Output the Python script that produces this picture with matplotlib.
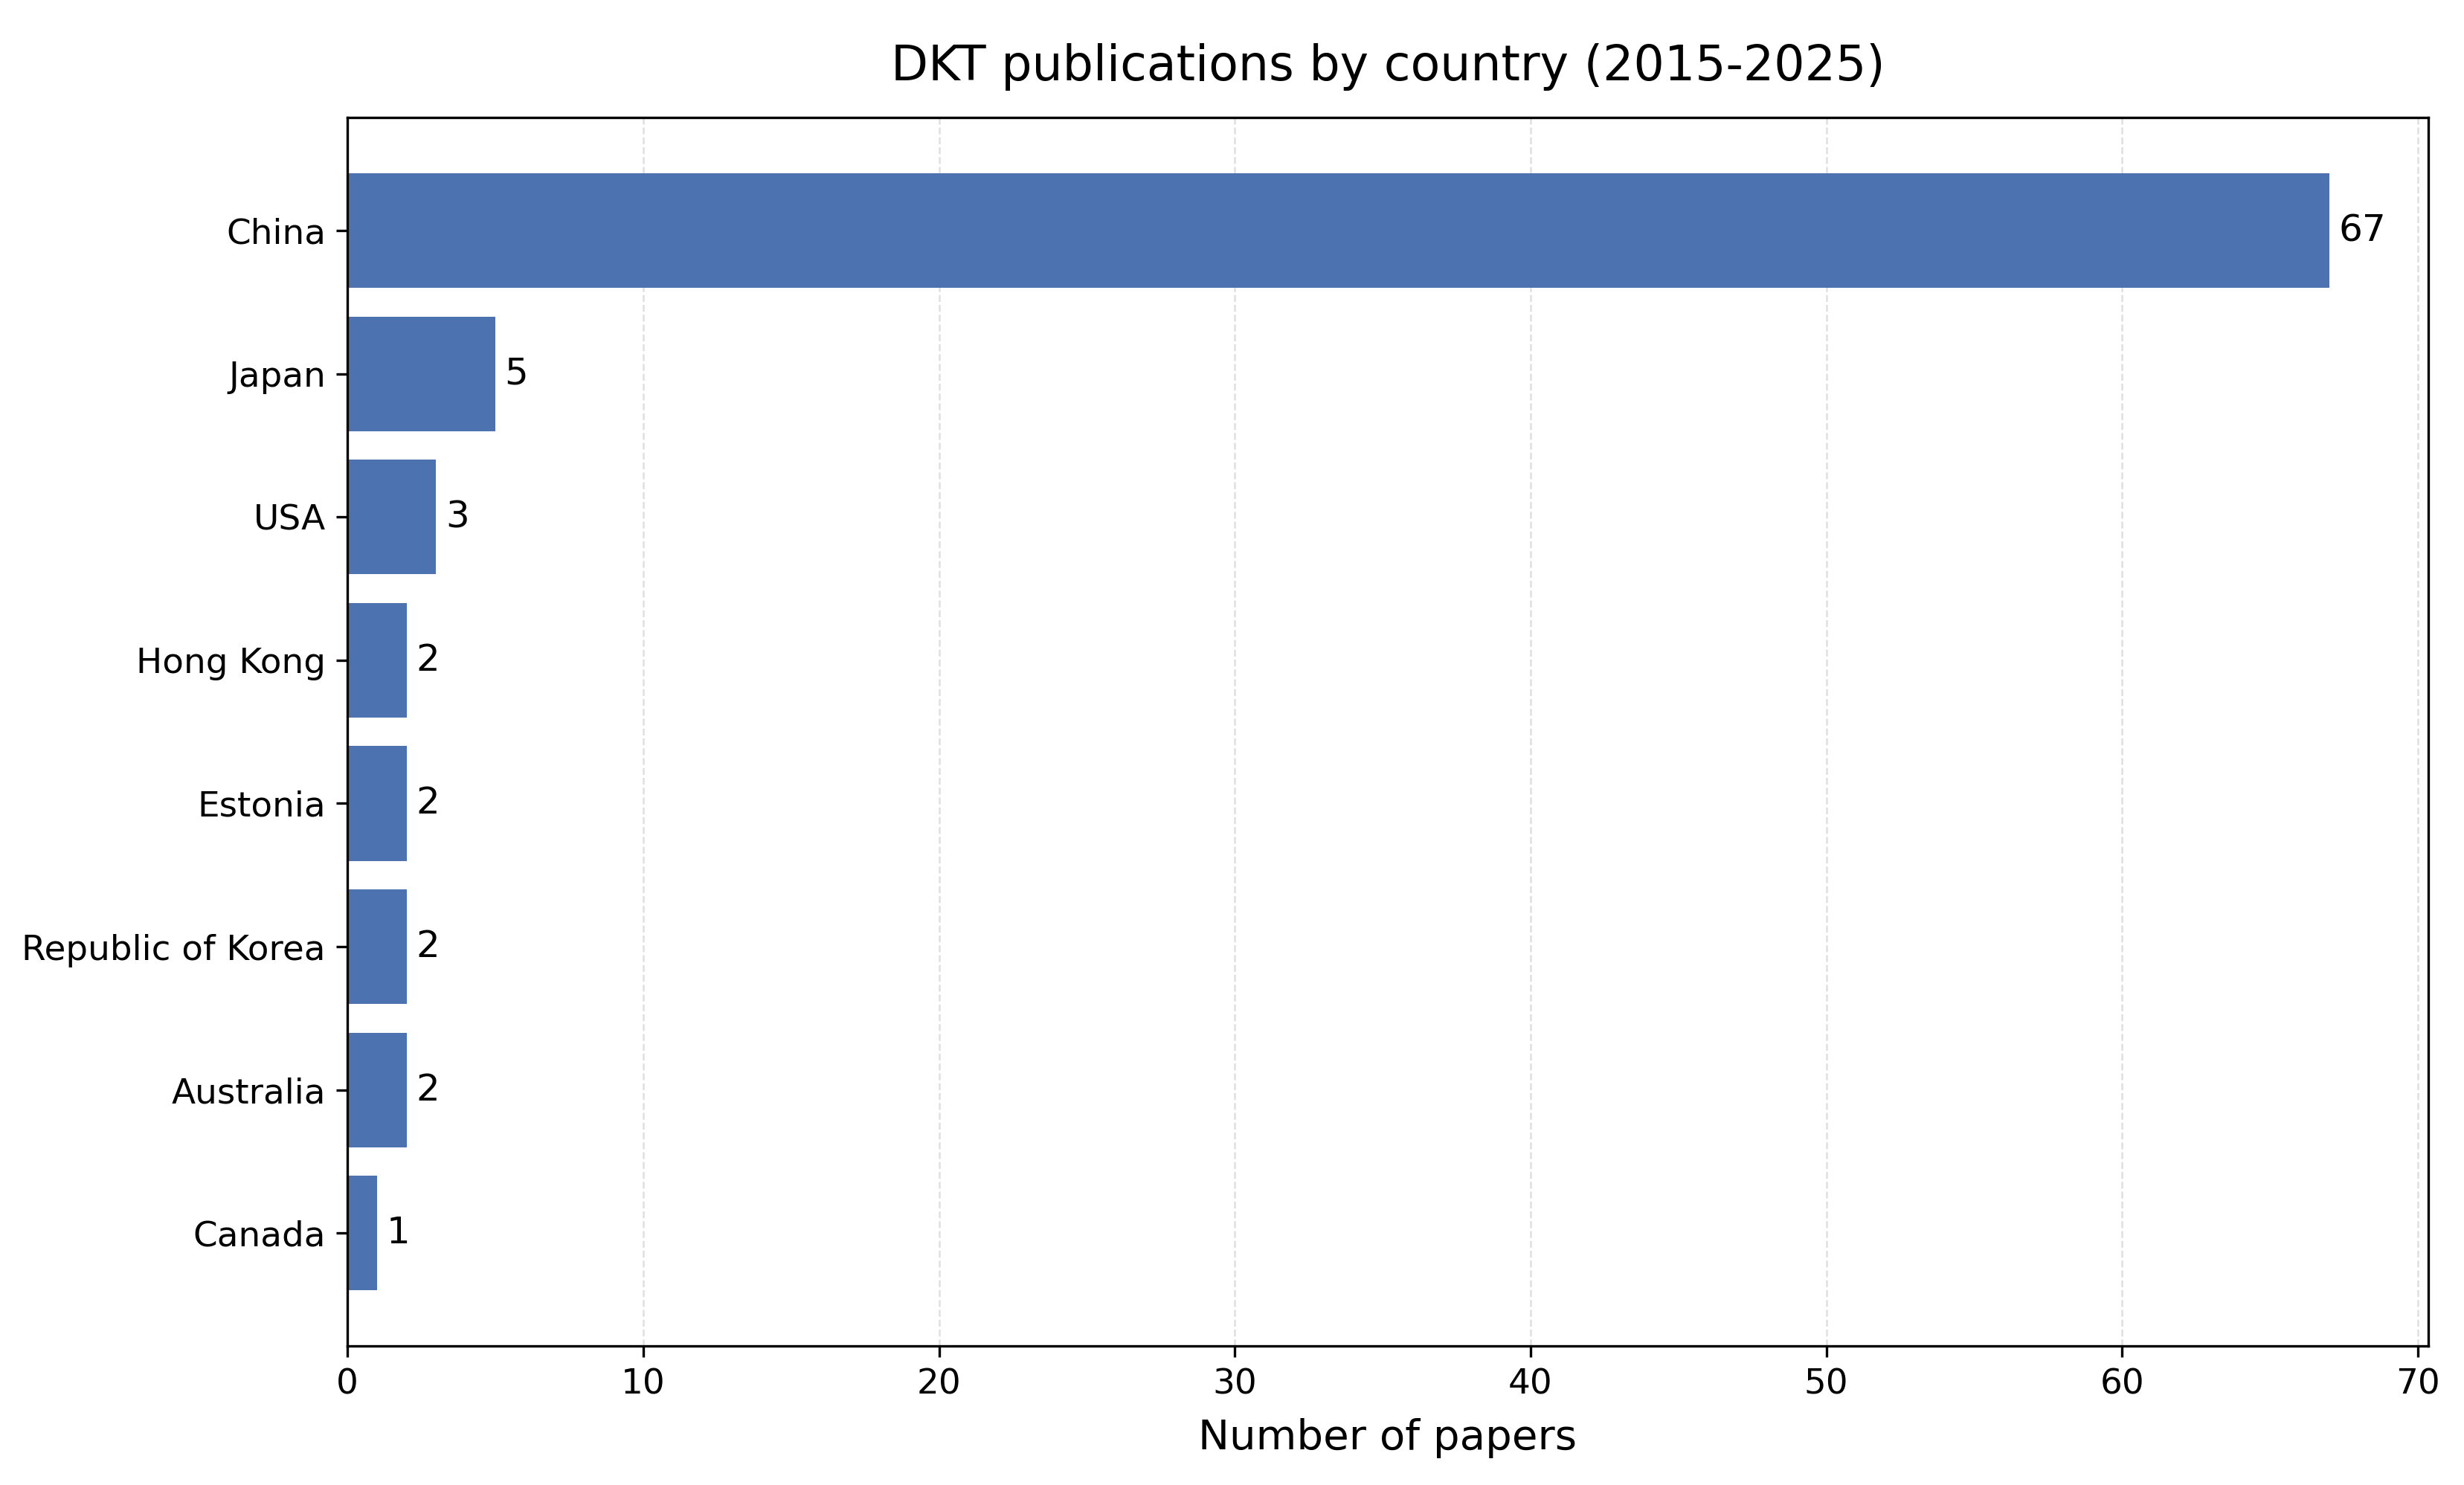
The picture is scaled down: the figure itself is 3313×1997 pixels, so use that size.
import matplotlib
matplotlib.use("Agg")
import matplotlib.pyplot as plt

countries = ["China", "Japan", "USA", "Hong Kong", "Estonia", "Republic of Korea", "Australia", "Canada"]
papers = [67, 5, 3, 2, 2, 2, 2, 1]

plt.rcParams["font.size"] = 11.25

fig = plt.figure(figsize=(3313 / 300, 1997 / 300), dpi=300)
ax = fig.add_axes([0.1410, 0.0935, 0.8445, 0.8273])

ypos = list(range(len(countries)))
bars = ax.barh(ypos, papers, height=0.8, color="#4C72B0")
ax.set_yticks(ypos)
ax.set_yticklabels(countries, fontsize=11.25)
ax.invert_yaxis()
ax.tick_params(axis="x", labelsize=11.25)
ax.bar_label(bars, labels=[str(v) for v in papers], padding=3, fontsize=12)
ax.set_xlabel("Number of papers", fontsize=13.5, labelpad=5.5)
ax.set_title("DKT publications by country (2015-2025)", fontsize=15.6, pad=12)
ax.grid(axis="x", linestyle="--", linewidth=0.6, alpha=0.4)
ax.set_axisbelow(True)

fig.savefig("out.png", dpi=300)
